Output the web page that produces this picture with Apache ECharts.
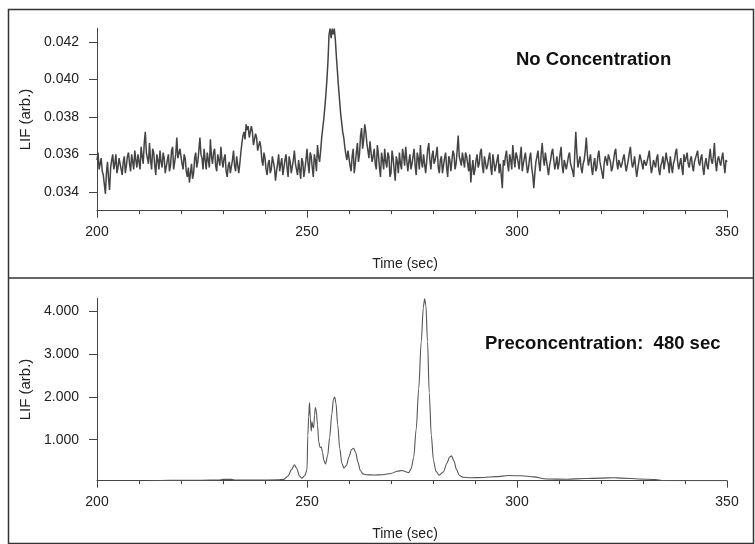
<!DOCTYPE html>
<html><head><meta charset="utf-8">
<script src="https://cdn.jsdelivr.net/npm/echarts@6/dist/echarts.min.js"></script>
<style>html,body{margin:0;padding:0;background:#fff}#c{width:755px;height:544px}</style>
</head><body><div id="c"></div>
<script>
// ---- data ----
const xTicks = [200, 250, 300, 350];
const topYTicks = [0.034, 0.036, 0.038, 0.040, 0.042];
const botYTicks = [1, 2, 3, 4];

// top panel: signal read every 0.5 s from 200 s ...
const topStart = 200, topStep = 0.5;
const topValues = [
0.0357,0.0352,0.0358,0.0349,0.0339,0.0356,0.0341,0.0357,0.0352,0.0360,
0.0353,0.0357,0.0349,0.0359,0.0354,0.0361,0.0351,0.0356,0.0362,0.0353,
0.0359,0.0364,0.0355,0.0372,0.0358,0.0366,0.0352,0.0361,0.0349,0.0357,
0.0362,0.0353,0.0358,0.0351,0.0360,0.0354,0.0364,0.0356,0.0369,0.0357,
0.0362,0.0352,0.0358,0.0348,0.0345,0.0355,0.0350,0.0361,0.0356,0.0369,
0.0358,0.0363,0.0352,0.0360,0.0368,0.0355,0.0363,0.0351,0.0359,0.0364,
0.0353,0.0360,0.0348,0.0356,0.0349,0.0362,0.0351,0.0358,0.0355,0.0366,
0.0372,0.0376,0.0375,0.0370,0.0372,0.0366,0.0369,0.0361,0.0364,0.0354,
0.0358,0.0349,0.0357,0.0352,0.0360,0.0346,0.0355,0.0351,0.0358,0.0353,
0.0360,0.0348,0.0356,0.0351,0.0362,0.0354,0.0357,0.0347,0.0356,0.0352,
0.0363,0.0350,0.0359,0.0348,0.0357,0.0365,0.0356,0.0369,0.0379,0.0392,
0.0410,0.0427,0.0427,0.0427,0.0412,0.0396,0.0382,0.0372,0.0364,0.0357,
0.0361,0.0351,0.0363,0.0355,0.0366,0.0360,0.0374,0.0368,0.0372,0.0362,
0.0367,0.0356,0.0363,0.0352,0.0360,0.0348,0.0357,0.0363,0.0353,0.0359,
0.0350,0.0358,0.0346,0.0356,0.0361,0.0352,0.0359,0.0364,0.0351,0.0360,
0.0355,0.0363,0.0349,0.0358,0.0365,0.0353,0.0361,0.0356,0.0366,0.0352,
0.0362,0.0357,0.0364,0.0350,0.0359,0.0354,0.0361,0.0348,0.0357,0.0352,
0.0360,0.0355,0.0370,0.0358,0.0361,0.0353,0.0359,0.0351,0.0345,0.0357,
0.0352,0.0360,0.0355,0.0363,0.0350,0.0358,0.0354,0.0361,0.0349,0.0356,
0.0352,0.0360,0.0355,0.0342,0.0354,0.0362,0.0351,0.0357,0.0365,0.0353,
0.0359,0.0352,0.0364,0.0355,0.0361,0.0350,0.0358,0.0353,0.0342,0.0356,
0.0362,0.0351,0.0366,0.0354,0.0360,0.0349,0.0357,0.0363,0.0352,0.0359,
0.0355,0.0364,0.0350,0.0358,0.0353,0.0361,0.0356,0.0348,0.0372,0.0353,
0.0359,0.0350,0.0357,0.0369,0.0354,0.0360,0.0349,0.0358,0.0353,0.0362,
0.0355,0.0347,0.0359,0.0354,0.0361,0.0351,0.0357,0.0363,0.0352,0.0358,
0.0355,0.0360,0.0351,0.0357,0.0364,0.0353,0.0359,0.0348,0.0356,0.0361,
0.0352,0.0358,0.0354,0.0362,0.0350,0.0357,0.0353,0.0360,0.0349,0.0356,
0.0352,0.0361,0.0355,0.0359,0.0350,0.0357,0.0363,0.0352,0.0358,0.0349,
0.0356,0.0361,0.0353,0.0359,0.0351,0.0357,0.0362,0.0354,0.0360,0.0349,
0.0358,0.0352,0.0363,0.0355,0.0366,0.0351,0.0359,0.0354,0.0361,0.0350,
0.0356
];
// ... and the readings in between (200.25 s, 200.75 s, ...)
const topMidOffset = 0.25;
const topValuesMid = [
0.0361,0.0355,0.0351,0.0344,0.0350,0.0347,0.0353,0.0360,0.0355,0.0350,
0.0358,0.0352,0.0356,0.0350,0.0359,0.0355,0.0360,0.0352,0.0357,0.0360,
0.0352,0.0359,0.0366,0.0361,0.0355,0.0357,0.0363,0.0354,0.0360,0.0352,
0.0356,0.0361,0.0350,0.0357,0.0351,0.0362,0.0352,0.0360,0.0358,0.0363,
0.0355,0.0360,0.0351,0.0353,0.0350,0.0347,0.0358,0.0353,0.0362,0.0360,
0.0352,0.0357,0.0361,0.0353,0.0359,0.0361,0.0354,0.0360,0.0354,0.0357,
0.0358,0.0351,0.0354,0.0350,0.0357,0.0354,0.0359,0.0350,0.0361,0.0370,
0.0368,0.0373,0.0369,0.0375,0.0365,0.0371,0.0362,0.0367,0.0357,0.0361,
0.0352,0.0355,0.0350,0.0359,0.0353,0.0351,0.0360,0.0355,0.0349,0.0357,
0.0353,0.0359,0.0350,0.0357,0.0355,0.0349,0.0352,0.0358,0.0348,0.0357,
0.0355,0.0361,0.0353,0.0360,0.0351,0.0359,0.0362,0.0374,0.0385,0.0400,
0.0424,0.0422,0.0424,0.0421,0.0404,0.0389,0.0377,0.0369,0.0360,0.0362,
0.0354,0.0359,0.0350,0.0361,0.0356,0.0370,0.0363,0.0376,0.0366,0.0358,
0.0361,0.0359,0.0355,0.0365,0.0353,0.0361,0.0352,0.0356,0.0361,0.0348,
0.0362,0.0352,0.0359,0.0350,0.0355,0.0363,0.0354,0.0357,0.0356,0.0352,
0.0359,0.0354,0.0361,0.0352,0.0356,0.0360,0.0350,0.0363,0.0357,0.0359,
0.0355,0.0360,0.0353,0.0357,0.0350,0.0358,0.0353,0.0359,0.0351,0.0362,
0.0352,0.0362,0.0359,0.0354,0.0357,0.0361,0.0355,0.0360,0.0352,0.0349,
0.0357,0.0353,0.0361,0.0354,0.0359,0.0352,0.0358,0.0353,0.0360,0.0351,
0.0357,0.0350,0.0349,0.0357,0.0359,0.0355,0.0360,0.0352,0.0358,0.0361,
0.0356,0.0359,0.0351,0.0358,0.0355,0.0353,0.0361,0.0349,0.0350,0.0359,
0.0355,0.0360,0.0358,0.0361,0.0353,0.0354,0.0361,0.0357,0.0355,0.0352,
0.0360,0.0354,0.0357,0.0352,0.0359,0.0355,0.0351,0.0360,0.0361,0.0356,
0.0353,0.0355,0.0362,0.0360,0.0357,0.0353,0.0355,0.0351,0.0359,0.0356,
0.0350,0.0355,0.0357,0.0360,0.0356,0.0353,0.0361,0.0356,0.0357,0.0353,
0.0358,0.0355,0.0354,0.0361,0.0357,0.0355,0.0353,0.0352,0.0360,0.0355,
0.0357,0.0354,0.0359,0.0355,0.0353,0.0356,0.0358,0.0352,0.0354,0.0359,
0.0356,0.0357,0.0350,0.0354,0.0355,0.0361,0.0356,0.0355,0.0353,0.0360,
0.0358,0.0355,0.0357,0.0354,0.0356,0.0360,0.0356,0.0358,0.0353,0.0355,
0.0354,0.0358,0.0357,0.0359,0.0356,0.0357,0.0356,0.0358,0.0355,0.0357
];

// bottom panel
const botTimes = [
212.5,215,220,225,229,230,232,233,238,243,244.5,245.5,246.3,247.0,247.6,248.2,248.8,249.5,
250.0,250.2,250.4,250.6,250.8,251.0,251.2,251.4,251.6,251.8,252.0,252.2,252.5,252.8,253.1,253.4,253.7,
254.0,254.4,254.9,255.4,255.9,256.3,256.6,256.9,257.3,257.8,258.3,258.8,259.4,260.0,260.6,261.1,261.6,
262.1,262.7,263.3,264.0,266,268,270,271.5,272.6,273.5,274.2,274.8,275.4,276.0,276.6,277.2,277.7,278.0,
278.3,278.7,279.1,279.6,280.1,280.7,281.5,282.5,283.3,284.0,284.4,285.0,285.6,286.3,287.2,289,292,295,
298,301,304,307,312,316,320,323,325,329,333,334.5,340,350
];
const botValues = [
0.04,0.045,0.05,0.05,0.055,0.07,0.07,0.055,0.055,0.06,0.07,0.15,0.30,0.41,0.32,0.15,0.10,0.16,
0.30,1.10,1.55,1.87,1.50,1.20,1.42,1.30,1.28,1.58,1.75,1.68,1.35,0.95,0.82,0.83,0.70,
0.52,0.43,0.62,1.05,1.60,1.95,2.00,1.85,1.35,0.80,0.45,0.33,0.40,0.60,0.77,0.80,0.70,
0.48,0.28,0.20,0.18,0.175,0.18,0.21,0.26,0.28,0.25,0.23,0.32,0.58,1.25,2.20,3.30,4.10,4.30,
4.15,3.30,2.10,1.10,0.52,0.26,0.17,0.25,0.45,0.60,0.62,0.50,0.30,0.16,0.12,0.11,0.115,0.135,
0.16,0.155,0.13,0.08,0.075,0.09,0.10,0.11,0.10,0.08,0.065,0.045,0.04,0.04
];

// ---- chart ----
const FONT = "'Liberation Sans', Arial, sans-serif";
const AX = '#444';
const chart = echarts.init(document.getElementById('c'), null, {renderer: 'canvas'});

const topData = [];
topValues.forEach((v, i) => {
  topData.push([topStart + i * topStep, v]);
  if (i < topValuesMid.length) topData.push([topStart + i * topStep + topMidOffset, topValuesMid[i]]);
});

function xAxisDef(gi) {
  return {
    type: 'value', gridIndex: gi, min: 200, max: 350, interval: 50,
    axisLine: {show: true, lineStyle: {color: AX, width: 1}},
    axisTick: {show: true, length: 7, lineStyle: {color: AX}},
    minorTick: {show: true, splitNumber: 5, length: 3.5, lineStyle: {color: AX}},
    splitLine: {show: false}, minorSplitLine: {show: false},
    axisLabel: {margin: 14, fontSize: 14, color: '#222', fontFamily: FONT,
      customValues: xTicks},
    name: 'Time (sec)', nameLocation: 'middle', nameGap: 46,
    nameTextStyle: {fontSize: 14, color: '#222', fontFamily: FONT, padding: [0, 14, 0, 0]}
  };
}
function yAxisDef(gi, min, max, ticks, digits) {
  return {
    type: 'value', gridIndex: gi, min: min, max: max,
    axisLine: {show: true, lineStyle: {color: AX, width: 1}},
    axisTick: {show: true, length: 8, lineStyle: {color: AX}, customValues: ticks},
    splitLine: {show: false},
    axisLabel: {margin: 18, fontSize: 14, color: '#222', fontFamily: FONT,
      customValues: ticks, formatter: v => v.toFixed(digits)},
    name: 'LIF (arb.)', nameLocation: 'middle', nameGap: 64, nameRotate: 90,
    nameTextStyle: {fontSize: 15, color: '#222', fontFamily: FONT}
  };
}

chart.setOption({
  animation: false,
  backgroundColor: '#fff',
  grid: [
    {left: 97, top: 28.3, width: 630, height: 182.4},
    {left: 97, top: 298.3, width: 630, height: 182.4}
  ],
  xAxis: [xAxisDef(0), xAxisDef(1)],
  yAxis: [yAxisDef(0, 0.033, 0.04272, topYTicks, 3), yAxisDef(1, 0.04, 4.31, botYTicks, 3)],
  series: [
    {type: 'line', xAxisIndex: 0, yAxisIndex: 0, showSymbol: false, sampling: null,
     data: topData,
     lineStyle: {color: '#444', width: 1.5}},
    {type: 'line', xAxisIndex: 1, yAxisIndex: 1, showSymbol: false,
     smooth: 0.3, smoothMonotone: 'x',
     data: botTimes.map((t, i) => [t, botValues[i]]),
     lineStyle: {color: '#555', width: 1.1}}
  ],
  graphic: [
    {type: 'rect', shape: {x: 8.5, y: 9.5, width: 745, height: 534}, silent: true,
     style: {fill: 'none', stroke: '#333', lineWidth: 1.5}},
    {type: 'line', shape: {x1: 8.5, y1: 278, x2: 753.5, y2: 278}, silent: true,
     style: {stroke: '#333', lineWidth: 1.5}},
    {type: 'text', left: 516, top: 50, silent: true,
     style: {text: 'No Concentration', font: "bold 18.5px 'Liberation Sans', Arial, sans-serif", fill: '#111'}},
    {type: 'text', left: 485, top: 334, silent: true,
     style: {text: 'Preconcentration:  480 sec', font: "bold 18.5px 'Liberation Sans', Arial, sans-serif", fill: '#111'}}
  ]
});
</script></body></html>
